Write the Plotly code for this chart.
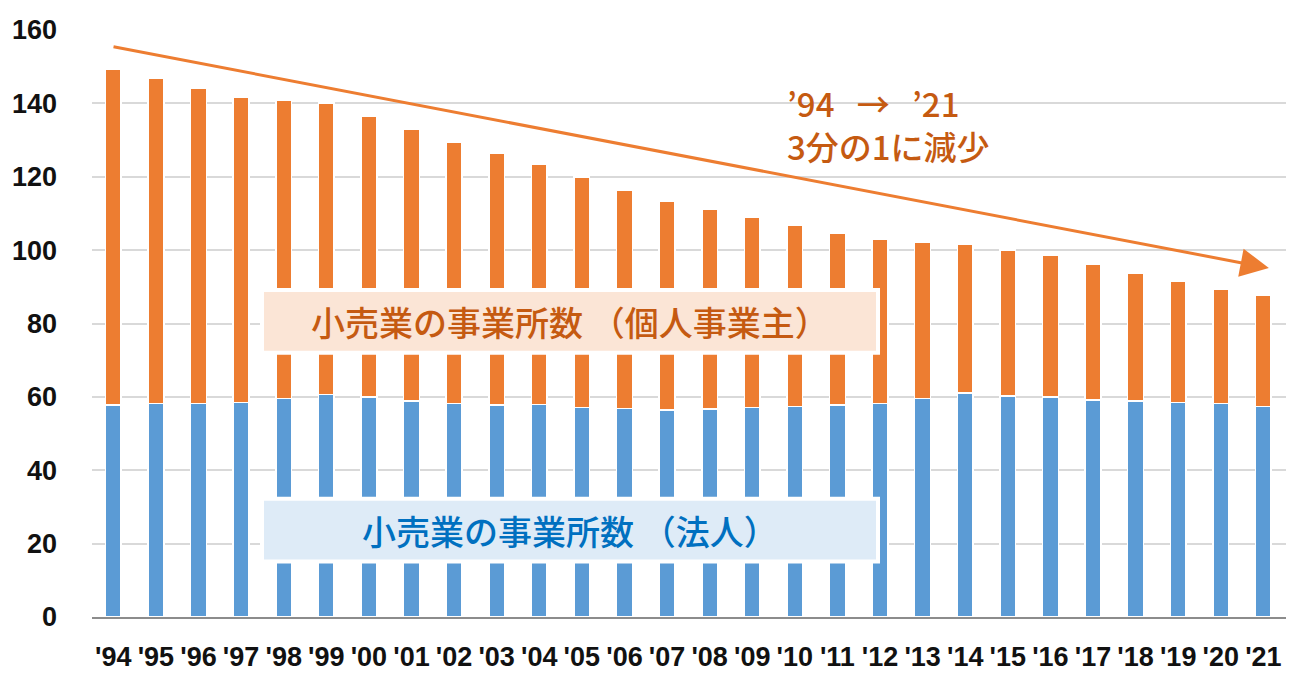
import plotly.graph_objects as go

years = ["'94", "'95", "'96", "'97", "'98", "'99", "'00", "'01", "'02", "'03",
         "'04", "'05", "'06", "'07", "'08", "'09", "'10", "'11", "'12", "'13",
         "'14", "'15", "'16", "'17", "'18", "'19", "'20", "'21"]
corporate = [57.8, 58.2, 58.2, 58.5, 59.6, 60.7, 59.9, 58.9, 58.2, 57.8,
             57.9, 57.1, 56.8, 56.4, 56.7, 57.1, 57.4, 57.8, 58.2, 59.6,
             61.0, 60.2, 59.9, 59.2, 58.9, 58.5, 58.2, 57.4]
individual = [91.6, 88.7, 85.8, 83.1, 81.2, 79.4, 76.7, 74.1, 71.3, 68.5,
              65.5, 62.8, 59.5, 56.8, 54.4, 51.8, 49.3, 46.8, 44.7, 42.6,
              40.7, 39.8, 38.7, 36.9, 34.8, 33.0, 31.2, 30.3]
y_ticks = [0, 20, 40, 60, 80, 100, 120, 140, 160]

label_individual = "小売業の事業所数 （個人事業主）"
label_corporate = "小売業の事業所数 （法人）"
trend_text = "’94   →   ’21<br>3分の1に減少"

BLUE = "#5B9BD5"
ORANGE = "#ED7D31"
ORANGE_TXT = "#C55A11"
BLUE_TXT = "#0070C0"
CJK = "Noto Sans CJK JP"

fig = go.Figure()
fig.add_trace(go.Bar(x=years, y=corporate, name="法人",
                     marker=dict(color=BLUE, line=dict(color="white", width=1.5)),
                     width=0.37))
fig.add_trace(go.Bar(x=years, y=individual, name="個人事業主",
                     marker=dict(color=ORANGE, line=dict(color="white", width=1.5)),
                     width=0.37))

# label boxes
fig.add_shape(type="rect", xref="paper", yref="y", x0=0.1424, x1=0.6583, y0=72.0, y1=89.1,
              fillcolor="#FBE5D6", line=dict(color="white", width=4), layer="above")
fig.add_shape(type="rect", xref="paper", yref="y", x0=0.1424, x1=0.6583, y0=15.1, y1=32.2,
              fillcolor="#DEEBF7", line=dict(color="white", width=4), layer="above")

fig.add_annotation(xref="paper", yref="y", x=0.4003, y=80.5, text=label_individual,
                   showarrow=False, font=dict(family=CJK, size=34, weight=500, color=ORANGE_TXT))
fig.add_annotation(xref="paper", yref="y", x=0.4003, y=23.6, text=label_corporate,
                   showarrow=False, font=dict(family=CJK, size=34, weight=500, color=BLUE_TXT))

# trend arrow
fig.add_annotation(x=27.13, y=95.1, ax=-0.03, ay=155.5, xref="x", yref="y",
                   axref="x", ayref="y", text="", showarrow=True,
                   arrowhead=2, arrowsize=1.9, arrowwidth=3, arrowcolor=ORANGE)
fig.add_annotation(xref="paper", yref="y", x=0.580, y=134.2, text=trend_text,
                   showarrow=False, xanchor="left", yanchor="middle", align="left",
                   font=dict(family=CJK, size=33, weight=500, color=ORANGE_TXT))

fig.update_layout(
    barmode="stack",
    width=1300, height=680,
    margin=dict(l=92, r=14, t=30, b=63),
    paper_bgcolor="white", plot_bgcolor="white",
    showlegend=False,
    font=dict(family="Liberation Sans", color="#111111"),
)
fig.update_xaxes(type="category", tickfont=dict(family="Liberation Sans", size=27, weight="bold", color="#111111"),
                 showgrid=False, showline=True, linecolor="#8C8C8C", linewidth=2,
                 ticks="", ticklabelstandoff=15, automargin=False)
fig.update_yaxes(range=[0, 160], tickvals=y_ticks, showgrid=True, gridcolor="#D9D9D9", gridwidth=1.5,
                 zeroline=False, showline=False, automargin=False,
                 tickfont=dict(family="Liberation Sans", size=27, weight="bold", color="#111111"),
                 ticks="", ticklabelstandoff=34)

fig.write_html("out.html")
